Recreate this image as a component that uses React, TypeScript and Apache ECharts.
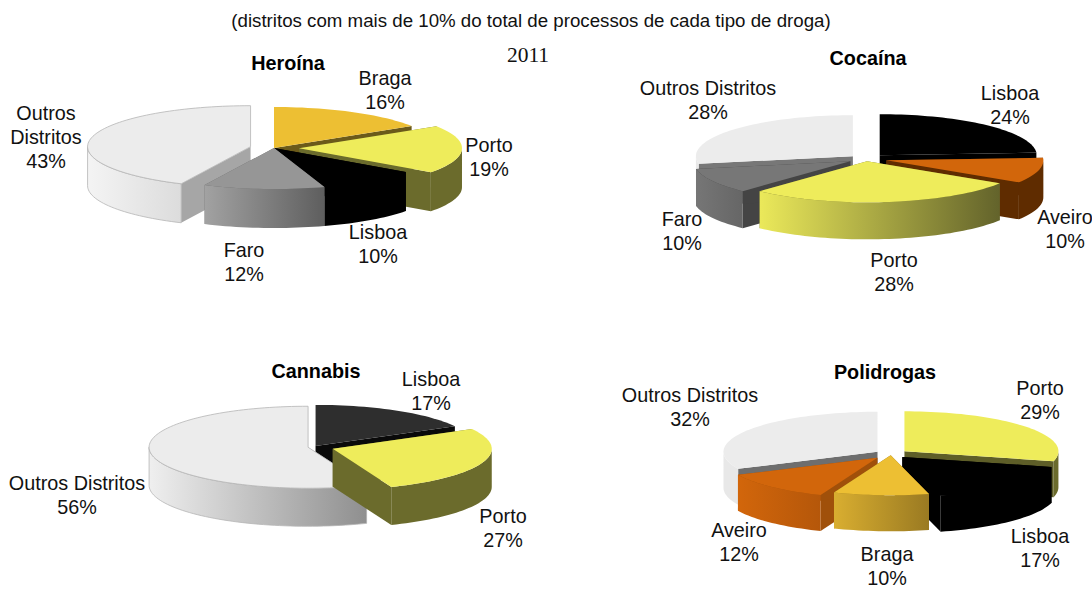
import React, { useEffect, useRef } from "react";
import * as echarts from "echarts";

const subtitle = "(distritos com mais de 10% do total de processos de cada tipo de droga)";
const yearLabel = "2011";

const heroinaTitle = "Heroína";
const heroinaNames = ["Braga", "Porto", "Lisboa", "Faro", "Outros Distritos"];
const heroinaValues = [16, 19, 10, 12, 43];

const cocainaTitle = "Cocaína";
const cocainaNames = ["Lisboa", "Aveiro", "Porto", "Faro", "Outros Distritos"];
const cocainaValues = [24, 10, 28, 10, 28];

const cannabisTitle = "Cannabis";
const cannabisNames = ["Lisboa", "Porto", "Outros Distritos"];
const cannabisValues = [17, 27, 56];

const polidrogasTitle = "Polidrogas";
const polidrogasNames = ["Porto", "Lisboa", "Braga", "Aveiro", "Outros Distritos"];
const polidrogasValues = [29, 17, 10, 12, 32];

// [top, wall left, wall right, radial wall]
const heroinaStyle = [
  ["#EDBF33", "#c9a02b", "#c9a02b", "#6b5a1a"],
  ["#EEEC5B", "#6b6b2c", "#6b6b2c", "#6b6b2c"],
  ["#000000", "#000000", "#000000", "#000000"],
  ["#969696", "#a2a2a2", "#5e5e5e", "#666666"],
  ["#ECECEC", "#f4f4f4", "#dcdcdc", "#a6a6a6", "#b5b5b5"],
];
const cocainaStyle = [
  ["#000000", "#000000", "#000000", "#000000"],
  ["#D2660B", "#5f2c00", "#5f2c00", "#5f2c00"],
  ["#EEEC5B", "#ebe95a", "#63632b", "#6b6b2c"],
  ["#777777", "#767676", "#666666", "#444444"],
  ["#ECECEC", "#e8e8e8", "#e8e8e8", "#777777"],
];
const cannabisStyle = [
  ["#2E2E2E", "#111111", "#111111", "#0a0a0a"],
  ["#EEEC5B", "#6b6b2c", "#6b6b2c", "#6b6b2c"],
  ["#ECECEC", "#efefef", "#8f8f8f", "#c8c8c8", "#b5b5b5"],
];
const polidrogasStyle = [
  ["#EEEC5B", "#6b6b2c", "#6b6b2c", "#5e5e28"],
  ["#000000", "#000000", "#000000", "#000000"],
  ["#EDBF33", "#d9ae30", "#9a7a22", "#8a6c1c"],
  ["#D2660B", "#d2660b", "#b5570a", "#a0500a"],
  ["#ECECEC", "#e8e8e8", "#e8e8e8", "#6e6e6e"],
];

const FONT = "Arial, 'Liberation Sans', sans-serif";
const pieLayouts = [
  {
    title: heroinaTitle, names: heroinaNames, values: heroinaValues, styles: heroinaStyle,
    cx: 274, cy: 148, rx: 163, ry: 41, depth: 39,
    explode: [0, 25, 0, 0, 24],
    wrapOutros: true,
    titlePos: [288, 53],
    labels: [[385, 90], [489, 157], [378, 244], [244, 262], [46, 137]],
  },
  {
    title: cocainaTitle, names: cocainaNames, values: cocainaValues, styles: cocainaStyle,
    cx: 866, cy: 159, rx: 157, ry: 41, depth: 37,
    explode: [20, 21, 9, 18, 17],
    wrapOutros: false,
    titlePos: [868, 48],
    labels: [[1010, 105], [1065, 229], [894, 272], [682, 231], [708, 100]],
  },
  {
    title: cannabisTitle, names: cannabisNames, values: cannabisValues, styles: cannabisStyle,
    cx: 313, cy: 447, rx: 159, ry: 41, depth: 38,
    explode: [5, 21, 5],
    wrapOutros: false,
    titlePos: [316, 361],
    labels: [[431, 391], [503, 528], [77, 495]],
  },
  {
    title: polidrogasTitle, names: polidrogasNames, values: polidrogasValues, styles: polidrogasStyle,
    cx: 891, cy: 454, rx: 154, ry: 40, depth: 36,
    explode: [17, 16, 5, 20, 16],
    wrapOutros: false,
    titlePos: [885, 362],
    labels: [[1040, 400], [1040, 548], [887, 566], [739, 542], [690, 407]],
  },
];

const rad = (d: number) => (d * Math.PI) / 180;

function makeRenderItem(p: any) {
  const total = p.values.reduce((a: number, b: number) => a + b, 0);
  return (params: any, api: any) => {
    const i = params.dataIndex;
    const value = api.value(1);
    let before = 0;
    for (let k = 0; k < i; k++) before += p.values[k];
    const t0 = (before / total) * 360;
    const t1 = ((before + value) / total) * 360;
    const mid = (t0 + t1) / 2;
    const sq = p.ry / p.rx;
    const e = p.explode[i];
    const ax = p.cx + e * Math.sin(rad(mid));
    const ay = p.cy - e * Math.cos(rad(mid)) * sq;
    const pt = (t: number, dz = 0) => [
      ax + p.rx * Math.sin(rad(t)),
      ay - p.ry * Math.cos(rad(t)) + dz,
    ];
    const st = p.styles[i];
    const baseZ = Math.round((1 - Math.cos(rad(mid))) * 100) * 10;

    const arc: number[][] = [];
    const n = Math.max(2, Math.ceil((t1 - t0) / 2));
    for (let k = 0; k <= n; k++) arc.push(pt(t0 + ((t1 - t0) * k) / n));

    const children: any[] = [];
    [t0, t1].forEach((t, k) => {
      children.push({
        type: "polygon",
        z2: baseZ + k,
        silent: true,
        shape: { points: [[ax, ay], pt(t), pt(t, p.depth), [ax, ay + p.depth]] },
        style: { fill: st[3] },
      });
    });
    const f0 = Math.max(t0, 90);
    const f1 = Math.min(t1, 270);
    if (f1 > f0) {
      const top: number[][] = [];
      const bottom: number[][] = [];
      const m = Math.max(2, Math.ceil((f1 - f0) / 2));
      for (let k = 0; k <= m; k++) {
        const t = f0 + ((f1 - f0) * k) / m;
        top.push(pt(t));
        bottom.unshift(pt(t, p.depth));
      }
      children.push({
        type: "polygon",
        z2: baseZ + 2,
        silent: true,
        shape: { points: top.concat(bottom) },
        style: {
          fill: {
            type: "linear", x: 0, y: 0, x2: 1, y2: 0,
            colorStops: [
              { offset: 0, color: st[1] },
              { offset: 1, color: st[2] },
            ],
          },
          stroke: st[4] || undefined,
          lineWidth: st[4] ? 0.8 : 0,
        },
      });
    }
    children.push({
      type: "polygon",
      z2: baseZ + 3,
      silent: true,
      shape: { points: [[ax, ay]].concat(arc) },
      style: { fill: st[0], stroke: st[4] || undefined, lineWidth: st[4] ? 0.8 : 0 },
    });

    const name = p.names[i];
    const shown = p.wrapOutros ? name.replace(" ", "\n") : name;
    children.push({
      type: "text",
      z2: 5000,
      silent: true,
      x: p.labels[i][0],
      y: p.labels[i][1],
      style: {
        text: `${shown}\n${value}%`,
        font: `19.8px ${FONT}`,
        lineHeight: 24,
        fill: "#111111",
        align: "center",
        verticalAlign: "middle",
      },
    });
    return { type: "group", children };
  };
}

export default function App() {
  const ref = useRef<HTMLDivElement>(null);
  useEffect(() => {
    const chart = echarts.init(ref.current!, null, { renderer: "svg" });
    chart.setOption({
      animation: false,
      backgroundColor: "#ffffff",
      title: [
        {
          text: subtitle, left: 531, top: 11, textAlign: "center", padding: 0,
          textStyle: { fontFamily: FONT, fontSize: 18.7, fontWeight: "normal", color: "#111111" },
        },
        {
          text: yearLabel, left: 528, top: 44, textAlign: "center", padding: 0,
          textStyle: { fontFamily: "'Liberation Serif', 'Times New Roman', serif", fontSize: 21.5, fontWeight: "normal", color: "#111111" },
        },
        ...pieLayouts.map((p) => ({
          text: p.title, left: p.titlePos[0], top: p.titlePos[1], textAlign: "center", padding: 0,
          textStyle: { fontFamily: FONT, fontSize: 19.8, fontWeight: "bold", color: "#000000" },
        })),
      ],
      series: pieLayouts.map((p) => ({
        type: "custom",
        coordinateSystem: "none",
        silent: true,
        data: p.values.map((v, i) => [i, v]),
        renderItem: makeRenderItem(p),
      })),
    });
    return () => chart.dispose();
  }, []);
  return <div ref={ref} style={{ position: "fixed", left: 0, top: 0, width: 1092, height: 590 }} />;
}
